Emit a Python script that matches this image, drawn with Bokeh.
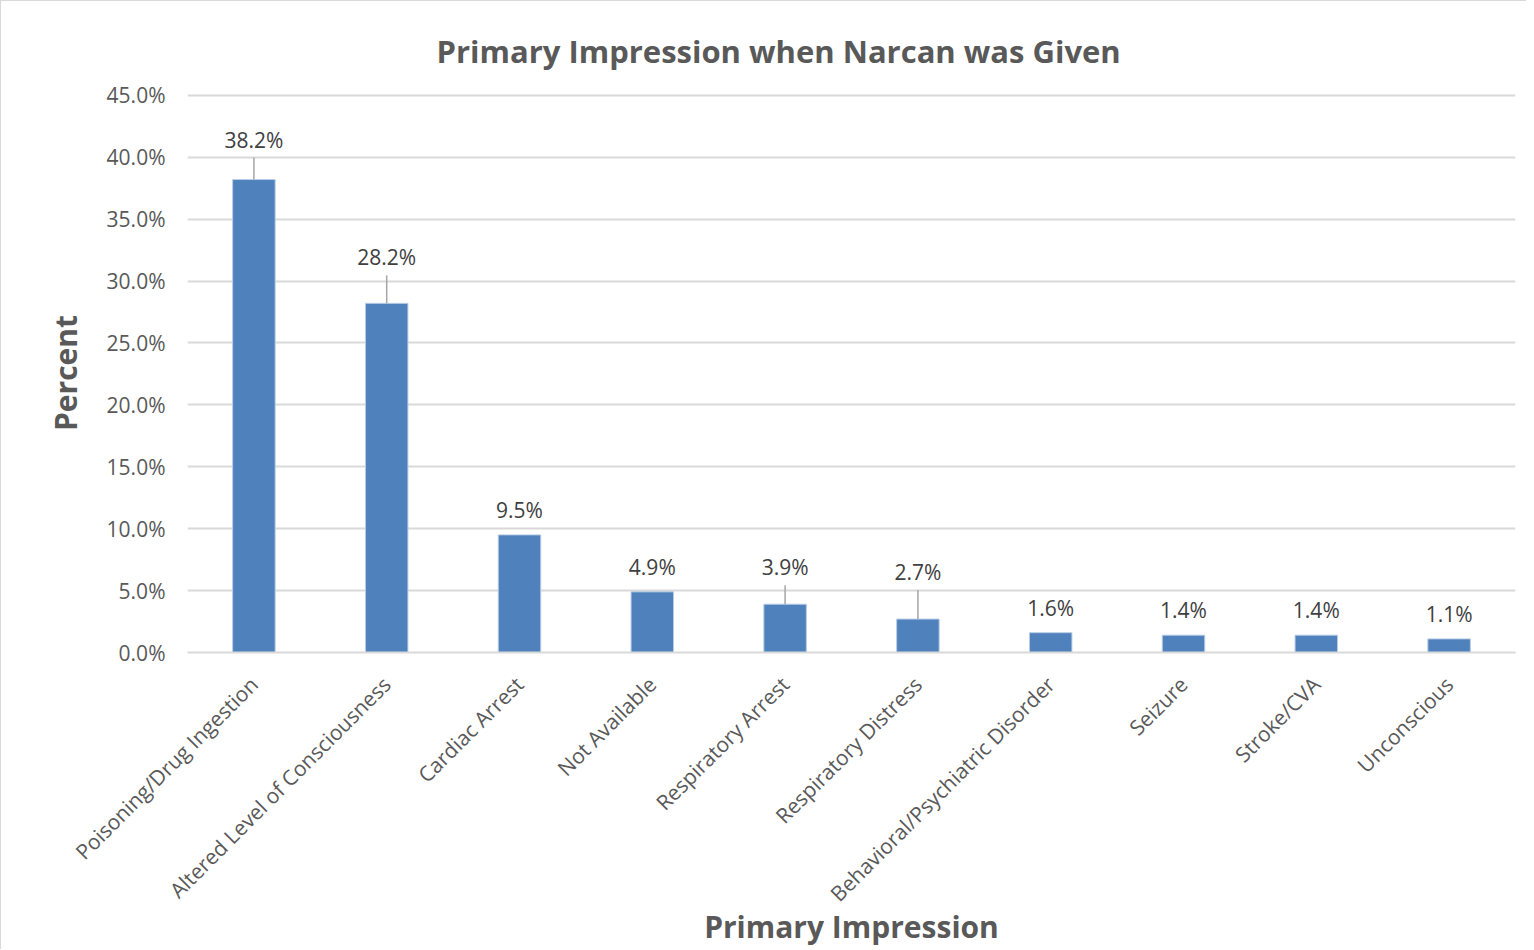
from bokeh.plotting import figure
from bokeh.models import ColumnDataSource, Range1d, FactorRange, NumeralTickFormatter, LabelSet
from bokeh.core.properties import value
from bokeh.embed import file_html
from bokeh.resources import INLINE

# ---- data ----
categories = [
    "Poisoning/Drug Ingestion",
    "Altered Level of Consciousness",
    "Cardiac Arrest",
    "Not Available",
    "Respiratory Arrest",
    "Respiratory Distress",
    "Behavioral/Psychiatric Disorder",
    "Seizure",
    "Stroke/CVA",
    "Unconscious",
]
percent_values = [38.2, 28.2, 9.5, 4.9, 3.9, 2.7, 1.6, 1.4, 1.4, 1.1]
value_labels = ["38.2%", "28.2%", "9.5%", "4.9%", "3.9%", "2.7%", "1.6%", "1.4%", "1.4%", "1.1%"]
y_ticks = [0.0, 0.05, 0.10, 0.15, 0.20, 0.25, 0.30, 0.35, 0.40, 0.45]

# ---- styling (label placement in screen pixels above the bar top) ----
label_offsets_px = [40, 46, 25, 25, 37, 47, 25, 25, 25, 25]
LEADER_GAP_PX = 18
Y_TOP = 0.4515  # a hair above the last tick so its gridline is drawn

FONT = "Open Sans"
GREY = "#595959"

W, H = 1526, 949
MBL, MBR, MBT, MBB = 186, 12, 92, 297
FRAME_H = H - MBT - MBB

fractions = [v / 100.0 for v in percent_values]
src = ColumnDataSource(dict(cat=categories, y=fractions, lab=value_labels, off=label_offsets_px))

p = figure(
    x_range=FactorRange(factors=categories),
    y_range=Range1d(0, Y_TOP),
    width=W, height=H,
    output_backend="svg", toolbar_location=None,
    min_border_left=MBL, min_border_right=MBR, min_border_top=MBT, min_border_bottom=MBB,
)
p.styles = {"border-top": "1px solid #d9d9d9", "border-left": "1px solid #d9d9d9"}
p.outline_line_color = None
p.background_fill_color = "white"
p.border_fill_color = "white"

p.title.text = "Primary Impression when Narcan was Given"
p.title.align = "left"
p.title.offset = 249
p.title.text_font = FONT
p.title.text_font_size = "31px"
p.title.text_font_style = "bold"
p.title.text_color = GREY
p.title.standoff = 44

p.vbar(x="cat", top="y", width=0.32, source=src, fill_color="#4f81bd", line_color="#b9cde6", line_width=1)

# leader lines for labels lifted off their bars
lx, ly0, ly1 = [], [], []
for c, f, o in zip(categories, fractions, label_offsets_px):
    if o > 30:
        lx.append(c)
        ly0.append(f)
        ly1.append(f + (o - LEADER_GAP_PX) / FRAME_H * Y_TOP)
p.segment(x0=lx, y0=ly0, x1=lx, y1=ly1, line_color="#a6a6a6", line_width=1.5)

labels = LabelSet(x="cat", y="y", text="lab", y_offset="off", source=src,
                  text_align="center", text_baseline="middle",
                  text_font=value(FONT), text_font_size=value("21px"), text_color="#404040")
p.add_layout(labels)

# axes
p.yaxis.ticker = y_ticks
p.yaxis.formatter = NumeralTickFormatter(format="0.0%")
p.yaxis.axis_line_color = None
p.yaxis.major_tick_line_color = None
p.yaxis.minor_tick_line_color = None
p.yaxis.major_label_text_font = FONT
p.yaxis.major_label_text_font_size = "21px"
p.yaxis.major_label_text_color = GREY
p.yaxis.major_label_standoff = 16
p.yaxis.axis_label = "Percent"
p.yaxis.axis_label_text_font = FONT
p.yaxis.axis_label_text_font_size = "30px"
p.yaxis.axis_label_text_font_style = "bold"
p.yaxis.axis_label_text_color = GREY
p.yaxis.axis_label_standoff = 18

p.xaxis.axis_line_color = "#d9d9d9"
p.xaxis.axis_line_width = 2
p.xaxis.major_tick_line_color = None
p.xaxis.minor_tick_line_color = None
p.xaxis.major_label_orientation = 0.785398
p.xaxis.major_label_text_font = FONT
p.xaxis.major_label_text_font_size = "21px"
p.xaxis.major_label_text_color = GREY
p.xaxis.major_label_standoff = 22
p.xaxis.axis_label = "Primary Impression"
p.xaxis.axis_label_text_font = FONT
p.xaxis.axis_label_text_font_size = "30px"
p.xaxis.axis_label_text_font_style = "bold"
p.xaxis.axis_label_text_color = GREY
p.xaxis.axis_label_standoff = -14

p.xgrid.grid_line_color = None
p.ygrid.grid_line_color = "#d9d9d9"
p.ygrid.grid_line_width = 2

open("out.html", "w").write(file_html(p, INLINE))
